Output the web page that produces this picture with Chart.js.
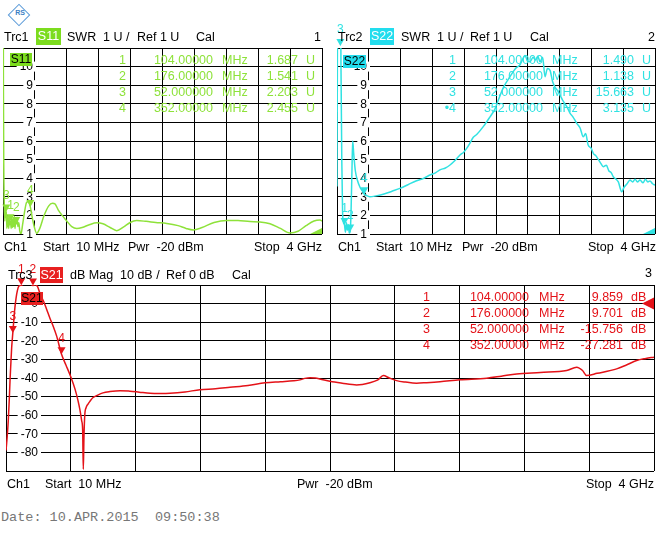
<!DOCTYPE html>
<html><head><meta charset="utf-8">
<script src="https://cdn.jsdelivr.net/npm/chart.js@4.4.1/dist/chart.umd.min.js"></script>
<style>
body{margin:0;background:#fff;width:660px;height:543px;position:relative;overflow:hidden;font-family:"Liberation Sans",Arial,sans-serif;}
.t{position:absolute;white-space:pre;color:#000;}
canvas{position:absolute;}
.logo{position:absolute;left:11px;top:7px;width:14px;height:14px;border:1.5px solid #5a9ad8;transform:rotate(45deg);}
.logot{position:absolute;left:12px;top:9px;width:16px;font-size:7px;line-height:8px;color:#3d7fc4;text-align:center;font-weight:bold;}
</style></head><body>
<div class="logo"></div><div class="logot">RS</div>
<script>
// ---------- data ----------
const freqStartMHz = 10, freqStopMHz = 4000;
const markerFreq = [104, 176, 52, 352];
const markerNames = ['1', '2', '3', '4'];

const s11Freq = [10,15,20,26,33,40,46,52,58,64,70,76,82,88,94,104,112,120,128,136,144,152,160,168,176,186,196,208,220,235,255,280,305,330,352,375,400,431,470,520,580,630,660,700,750,807,870,932,1000,1090,1182,1260,1350,1432,1520,1600,1682,1800,1920,2058,2200,2300,2390,2500,2650,2808,2950,3100,3224,3350,3480,3600,3700,3800,3900,3975,4000];
const s11Swr = [25,9,4.5,2.6,1.7,2.5,1.9,2.203,1.3,2.0,1.4,1.9,1.3,1.8,1.5,1.687,1.3,1.9,1.35,1.8,1.4,1.95,1.3,1.7,1.541,1.9,1.4,1.6,1.15,1.0,1.5,2.2,2.7,2.75,2.455,1.9,1.4,1.04,1.3,1.95,2.5,2.65,2.62,2.3,2.0,1.7,1.4,1.3,1.35,1.5,1.6,1.55,1.35,1.18,1.38,1.62,1.72,1.68,1.62,1.57,1.45,1.3,1.22,1.35,1.62,1.73,1.72,1.67,1.65,1.55,1.3,1.06,1.15,1.45,1.7,1.75,1.7];
const s11MarkerVal = [1.687, 1.541, 2.203, 2.455];

const s22Freq = [10,16,24,34,44,52,60,70,80,92,104,116,128,140,152,164,176,188,198,207,220,240,265,300,330,352,390,424,500,600,700,800,900,1000,1100,1177,1250,1302,1370,1428,1490,1553,1600,1637,1680,1720,1763,1850,1930,1990,2034,2100,2181,2250,2306,2340,2369,2400,2432,2470,2500,2530,2557,2590,2620,2650,2683,2715,2745,2780,2808,2840,2870,2900,2933,2970,3018,3060,3100,3130,3160,3200,3226,3260,3290,3320,3351,3390,3420,3450,3477,3510,3540,3582,3610,3650,3686,3720,3750,3780,3812,3850,3880,3910,3937,3970,4000];
const s22Swr = [3.55,12,22,24,19,15.663,10,5,2.2,1.6,1.49,1.1,1.6,1.2,1.5,1.05,1.138,2.5,4.5,6.0,5.3,4.4,3.9,3.5,3.3,3.135,3.05,3.0,3.05,3.15,3.3,3.45,3.65,3.85,4.0,4.17,4.3,4.45,4.55,4.71,4.95,5.25,5.4,5.6,5.9,6.2,6.35,6.8,7.3,7.7,8.2,8.9,9.46,9.9,10.1,10.4,10.6,10.3,10.26,10.5,10.35,10.55,10.26,10.5,9.46,9.9,9.8,9.2,8.9,8.7,8.47,8.2,8.0,7.8,7.5,7.3,6.95,6.7,6.23,6.4,5.8,5.6,5.34,5.2,5.0,4.8,4.62,4.7,4.4,4.3,4.08,3.95,3.8,3.27,3.5,3.7,3.9,3.8,3.95,3.8,3.9,3.75,3.95,3.8,3.85,3.7,3.63];
const s22MarkerVal = [1.490, 1.138, 15.663, 3.135];

const s21Freq = [10,17,24,30,35,40,45,52,58,65,72,80,90,104,120,140,160,176,192,205,219,240,260,281,300,322,352,379,410,435,453,465,476,482,486,490,495,503,515,527,546,568,607,650,712,773,830,897,960,1020,1112,1204,1300,1389,1500,1605,1700,1780,1820,1850,1882,1915,1943,2005,2080,2169,2251,2300,2333,2370,2415,2470,2538,2600,2682,2805,2970,3060,3154,3300,3462,3524,3560,3585,3650,3770,3830,3893,3950,4000];
const s21Db = [-79,-72,-63,-52,-41,-32,-23.5,-15.756,-9,-2,3,7,9.5,9.859,10.6,11,10.6,9.701,10.2,9.0,5.5,1.5,-3,-8,-12,-17.5,-27.281,-33,-39.6,-46,-52,-57,-63,-68,-89,-72,-60,-56,-54,-52.5,-50.5,-49.5,-48,-47.3,-46.8,-47.1,-47.6,-48.2,-48.3,-48.2,-47.5,-46.3,-45.8,-45,-44,-42.6,-42,-41.5,-41,-40.2,-39.8,-40,-40.5,-41.8,-42.8,-43.7,-42.5,-41,-38.7,-40,-41.4,-42.2,-42.8,-42.5,-42,-41,-40.1,-39,-37.8,-37,-36,-34.2,-36,-38.7,-37.5,-35.1,-33,-30.6,-29.5,-28.8];
const s21MarkerVal = [9.859, 9.701, -15.756, -27.281];

const swrTicks = [1,2,3,4,5,6,7,8,9,10,11];
const swrTickLabels = ['1','2','3','4','5','6','7','8','9','10'];
const dbTicks = [-90,-80,-70,-60,-50,-40,-30,-20,-10,0,10];
const dbTickLabels = ['0','-10','-20','-30','-40','-50','-60','-70','-80'];

// ---------- styles ----------
const GREEN = '#8EE23A', GREEN_BOX = '#7CDC1E';
const CYAN = '#30E2E2', CYAN_BOX = '#22DDEE';
const RED = '#E41218', RED_BOX = '#E82020';
const FONT = '"Liberation Sans", Arial, sans-serif';
const xGrid = Array.from({length: 11}, (_, i) => freqStartMHz + i * (freqStopMHz - freqStartMHz) / 10);

function txt(s, x, cy, o = {}) {
  const d = document.createElement('div');
  d.className = 't';
  d.textContent = s;
  const h = o.h || 14;
  d.style.fontSize = (o.size || 12.5) + 'px';
  d.style.lineHeight = h + 'px';
  d.style.top = (cy - h / 2) + 'px';
  if (o.right) d.style.right = (660 - x) + 'px'; else d.style.left = x + 'px';
  if (o.color) d.style.color = o.color;
  if (o.bg) { d.style.background = o.bg; d.style.width = o.w + 'px'; d.style.textAlign = 'center'; }
  if (o.font) d.style.fontFamily = o.font;
  document.body.appendChild(d);
}

const vnaPlugin = {
  id: 'vna',
  beforeDatasetsDraw(chart, args, o) {
    const ctx = chart.ctx, ys = chart.scales.y, ca = chart.chartArea;
    ctx.save();
    ctx.font = '12px ' + FONT;
    ctx.textAlign = 'right'; ctx.textBaseline = 'middle';
    o.labels.forEach(s => {
      const y = ys.getPixelForValue(Number(s));
      const w = ctx.measureText(s).width;
      const xr = ca.left + o.labelRight;
      ctx.fillStyle = '#fff';
      ctx.fillRect(xr - w - 3, y - 5, w + 6, 10);
      ctx.fillStyle = '#000';
      ctx.fillText(s, xr, y + 0.5);
    });
    ctx.restore();
  },
  afterDatasetsDraw(chart, args, o) {
    const ctx = chart.ctx, xs = chart.scales.x, ys = chart.scales.y, ca = chart.chartArea;
    ctx.save();
    // reference level indicator
    ctx.beginPath(); ctx.rect(ca.left, ca.top, ca.right - ca.left, ca.bottom - ca.top); ctx.clip();
    const ry = ys.getPixelForValue(o.refVal);
    ctx.fillStyle = o.color;
    ctx.beginPath(); ctx.moveTo(ca.right, ry - 6); ctx.lineTo(ca.right, ry + 6); ctx.lineTo(ca.right - 12, ry); ctx.closePath(); ctx.fill();
    ctx.restore();
    ctx.save();
    ctx.fillStyle = o.color;
    ctx.font = '12px ' + FONT;
    ctx.textAlign = 'center'; ctx.textBaseline = 'middle';
    markerFreq.forEach((f, i) => {
      const v = o.markerVals[i];
      const px = xs.getPixelForValue(f);
      let py = v > ys.max ? ca.top - 2 : ys.getPixelForValue(v);
      ctx.beginPath(); ctx.moveTo(px, py); ctx.lineTo(px - 4, py - 7); ctx.lineTo(px + 4, py - 7); ctx.closePath(); ctx.fill();
      ctx.fillText(markerNames[i], px, py - 16);
    });
    ctx.restore();
  }
};

function panel(o) {
  const cv = document.createElement('canvas');
  cv.width = o.w; cv.height = o.h;
  cv.style.left = o.left + 'px'; cv.style.top = o.top + 'px';
  document.body.appendChild(cv);
  return new Chart(cv.getContext('2d'), {
    type: 'line',
    data: { datasets: [{
      data: o.freq.map((f, i) => ({x: f, y: o.vals[i]})),
      borderColor: o.color, borderWidth: 1.5, pointRadius: 0,
      cubicInterpolationMode: 'monotone', fill: false
    }] },
    options: {
      responsive: false, animation: false, events: [],
      layout: { padding: { left: o.area[0] - o.left, top: o.area[1] - o.top, right: o.left + o.w - o.area[2], bottom: o.top + o.h - o.area[3] } },
      plugins: { legend: {display: false}, tooltip: {enabled: false},
        vna: { labels: o.labels, labelRight: o.labelRight, color: o.color, markerVals: o.markerVals, refVal: o.refVal } },
      scales: {
        x: { type: 'linear', min: freqStartMHz, max: freqStopMHz,
             ticks: {display: false}, grid: {color: '#000', lineWidth: 1, drawTicks: false}, border: {display: false},
             afterBuildTicks: s => { s.ticks = xGrid.map(v => ({value: v})); } },
        y: { type: 'linear', min: o.yTicks[0], max: o.yTicks[o.yTicks.length - 1],
             ticks: {display: false}, grid: {color: '#000', lineWidth: 1, drawTicks: false}, border: {display: false},
             afterBuildTicks: s => { s.ticks = o.yTicks.map(v => ({value: v})); } }
      }
    },
    plugins: [vnaPlugin]
  });
}

panel({left: 0, top: 20, w: 330, h: 230, area: [3, 48, 322, 234], freq: s11Freq, vals: s11Swr, color: GREEN,
  yTicks: swrTicks, labels: swrTickLabels, labelRight: 30, markerVals: s11MarkerVal, refVal: 1});
panel({left: 330, top: 20, w: 330, h: 230, area: [337, 48, 655, 234], freq: s22Freq, vals: s22Swr, color: CYAN,
  yTicks: swrTicks, labels: swrTickLabels, labelRight: 30, markerVals: s22MarkerVal, refVal: 1});
panel({left: 0, top: 255, w: 660, h: 225, area: [6, 285, 654, 471], freq: s21Freq, vals: s21Db, color: RED,
  yTicks: dbTicks, labels: dbTickLabels, labelRight: 32, markerVals: s21MarkerVal, refVal: 0});

// ---------- texts ----------
txt('Trc1', 4, 37); txt('S11', 36, 36.5, {bg: GREEN_BOX, w: 25, h: 17, color: '#fff'});
txt('SWR', 67, 37); txt('1 U /', 103, 37); txt('Ref 1 U', 137, 37); txt('Cal', 196, 37); txt('1', 321, 37, {right: true});
txt('Trc2', 338, 37); txt('S22', 370, 36.5, {bg: CYAN_BOX, w: 24, h: 17, color: '#fff'});
txt('SWR', 401, 37); txt('1 U /', 437, 37); txt('Ref 1 U', 470, 37); txt('Cal', 530, 37); txt('2', 655, 37, {right: true});
txt('Trc3', 8, 275); txt('S21', 40, 275, {bg: RED_BOX, w: 23, h: 16, color: '#fff'});
txt('dB Mag', 70, 275); txt('10 dB /', 120, 275); txt('Ref 0 dB', 166, 275); txt('Cal', 232, 275); txt('3', 652, 273, {right: true});
txt('Ch1', 4, 247); txt('Start  10 MHz', 43, 247); txt('Pwr  -20 dBm', 128, 247); txt('Stop  4 GHz', 322, 247, {right: true});
txt('Ch1', 338, 247); txt('Start  10 MHz', 376, 247); txt('Pwr  -20 dBm', 462, 247); txt('Stop  4 GHz', 656, 247, {right: true});
txt('Ch1', 7, 484); txt('Start  10 MHz', 45, 484); txt('Pwr  -20 dBm', 297, 484); txt('Stop  4 GHz', 654, 484, {right: true});
txt('S11', 10, 59, {bg: GREEN_BOX, w: 22, h: 13, size: 12});
txt('S22', 343, 61, {bg: CYAN_BOX, w: 23, h: 13, size: 12});
txt('S21', 21, 298.5, {bg: RED_BOX, w: 22, h: 13, size: 12});
function table(vals, unit, color, rowsY, cols, active) {
  markerFreq.forEach((f, i) => {
    const y = rowsY[i];
    txt((i === active ? '\u2022' : '') + markerNames[i], cols[0], y, {right: true, color});
    txt(f.toPrecision(8), cols[1], y, {right: true, color});
    txt('MHz', cols[2], y, {color});
    txt(vals[i].toFixed(3), cols[3], y, {right: true, color});
    txt(unit, cols[4], y, {color});
  });
}
table(s11MarkerVal, 'U', GREEN, [59.5, 76, 92, 108], [126, 213, 222, 298, 306], -1);
table(s22MarkerVal, 'U', CYAN, [59.5, 76, 92, 108], [456, 543, 552, 634, 642], 3);
table(s21MarkerVal, 'dB', RED, [296.7, 313, 329, 345], [430, 529, 539, 623, 631], -1);
txt('Date: 10.APR.2015  09:50:38', 1, 518, {size: 13.5, color: '#777', font: '"Liberation Mono", "DejaVu Sans Mono", monospace'});
</script>
</body></html>
